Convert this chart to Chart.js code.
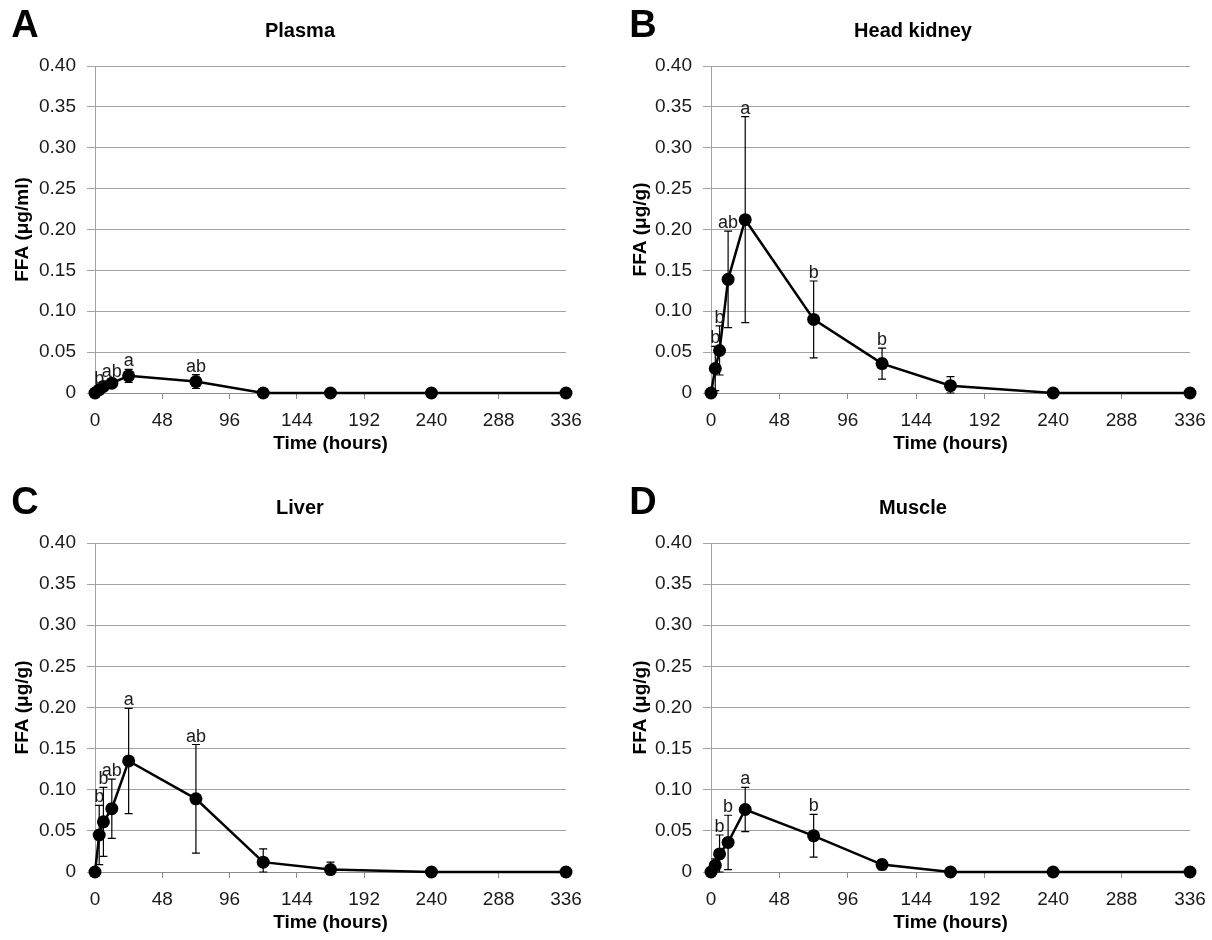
<!DOCTYPE html>
<html><head><meta charset="utf-8">
<script src="https://cdn.jsdelivr.net/npm/chart.js@4.4.1/dist/chart.umd.min.js"></script>
<style>
html,body{margin:0;padding:0;background:#fff;width:1212px;height:940px;overflow:hidden;position:relative;}
.panel{position:absolute;}
</style></head><body>
<div class="panel" style="left:0;top:0"><canvas id="cA" width="606" height="470"></canvas></div>
<div class="panel" style="left:606px;top:0"><canvas id="cB" width="610" height="470"></canvas></div>
<div class="panel" style="left:0;top:477px"><canvas id="cC" width="606" height="463"></canvas></div>
<div class="panel" style="left:606px;top:477px"><canvas id="cD" width="610" height="463"></canvas></div>
<script>
// ---- data ----
const hours = [0, 3, 6, 12, 24, 72, 120, 168, 240, 336];
const xTickValues = [0, 48, 96, 144, 192, 240, 288, 336];
const yTickValues = [0, 0.05, 0.10, 0.15, 0.20, 0.25, 0.30, 0.35, 0.40];

const plasmaMean = [0, 0.004, 0.008, 0.012, 0.021, 0.014, 0, 0, 0, 0];
const plasmaErr  = [0, 0.003, 0.003, 0.004, 0.008, 0.0085, 0, 0, 0, 0];
const plasmaSig  = ['', 'b', '', 'ab', 'a', 'ab', '', '', '', ''];

const kidneyMean = [0, 0.030, 0.052, 0.139, 0.212, 0.090, 0.036, 0.009, 0, 0];
const kidneyErr  = [0, 0.027, 0.030, 0.059, 0.126, 0.047, 0.019, 0.011, 0, 0];
const kidneySig  = ['', 'b', 'b', 'ab', 'a', 'b', 'b', '', '', ''];

const liverMean = [0, 0.045, 0.061, 0.077, 0.135, 0.089, 0.012, 0.003, 0, 0];
const liverErr  = [0, 0.036, 0.042, 0.036, 0.064, 0.066, 0.016, 0.009, 0, 0];
const liverSig  = ['', 'b', 'b', 'ab', 'a', 'ab', '', '', '', ''];

const muscleMean = [0, 0.008, 0.022, 0.036, 0.076, 0.044, 0.009, 0, 0, 0];
const muscleErr  = [0, 0.008, 0.023, 0.033, 0.027, 0.026, 0.006, 0, 0, 0];
const muscleSig  = ['', '', 'b', 'b', 'a', 'b', '', '', '', ''];

const panelTitles  = ['Plasma', 'Head kidney', 'Liver', 'Muscle'];
const panelLetters = ['A', 'B', 'C', 'D'];
const yAxisTitles  = ['FFA (\u03bcg/ml)', 'FFA (\u03bcg/g)', 'FFA (\u03bcg/g)', 'FFA (\u03bcg/g)'];
const xAxisTitle   = 'Time (hours)';

// ---- layout (canvas-local) ----
const FONT = "'Liberation Sans', Arial, Helvetica, sans-serif";
const layouts = [
  {id: 'cA', yW: 95,  padR: 40, xH: 77, yTitlePad: 11, xTitlePad: 15, titleX: 300, letterX: 25},
  {id: 'cB', yW: 105, padR: 26, xH: 77, yTitlePad: 23, xTitlePad: 15, titleX: 307, letterX: 37},
  {id: 'cC', yW: 95,  padR: 40, xH: 68, yTitlePad: 11, xTitlePad: 6,  titleX: 300, letterX: 25},
  {id: 'cD', yW: 105, padR: 26, xH: 68, yTitlePad: 23, xTitlePad: 6,  titleX: 307, letterX: 37}
];
const series = [
  {mean: plasmaMean, err: plasmaErr, sig: plasmaSig},
  {mean: kidneyMean, err: kidneyErr, sig: kidneySig},
  {mean: liverMean,  err: liverErr,  sig: liverSig},
  {mean: muscleMean, err: muscleErr, sig: muscleSig}
];

const decor = {
  id: 'decor',
  beforeDatasetsDraw(chart, args, opts) {
    const ctx = chart.ctx, xs = chart.scales.x, ys = chart.scales.y;
    const s = opts.series;
    ctx.save();
    ctx.strokeStyle = '#000';
    ctx.lineWidth = 1.2;
    hours.forEach((h, i) => {
      const e = s.err[i];
      if (!e) return;
      const x = xs.getPixelForValue(h);
      const yt = ys.getPixelForValue(s.mean[i] + e);
      const yb = ys.getPixelForValue(Math.max(0, s.mean[i] - e));
      ctx.beginPath();
      ctx.moveTo(x, yt); ctx.lineTo(x, yb);
      ctx.moveTo(x - 4, yt); ctx.lineTo(x + 4, yt);
      ctx.moveTo(x - 4, yb); ctx.lineTo(x + 4, yb);
      ctx.stroke();
    });
    ctx.restore();
  },
  afterDatasetsDraw(chart, args, opts) {
    const ctx = chart.ctx, xs = chart.scales.x, ys = chart.scales.y;
    const s = opts.series;
    ctx.save();
    ctx.fillStyle = '#1a1a1a';
    ctx.font = '18px ' + FONT;
    ctx.textAlign = 'center';
    ctx.textBaseline = 'alphabetic';
    hours.forEach((h, i) => {
      const t = s.sig[i];
      if (!t) return;
      const x = xs.getPixelForValue(h);
      const y = ys.getPixelForValue(s.mean[i] + s.err[i]);
      ctx.fillText(t, x, y - 3);
    });
    // panel letter and title
    ctx.fillStyle = '#000';
    ctx.textBaseline = 'middle';
    ctx.font = 'bold 38px ' + FONT;
    ctx.fillText(opts.letter, opts.letterX, 27);
    ctx.font = 'bold 20px ' + FONT;
    ctx.fillText(opts.title, opts.titleX, 31);
    ctx.restore();
  }
};

layouts.forEach((L, k) => {
  const s = series[k];
  new Chart(document.getElementById(L.id), {
    type: 'line',
    data: {
      datasets: [{
        data: hours.map((h, i) => ({x: h, y: s.mean[i]})),
        borderColor: '#000',
        borderWidth: 2.5,
        pointRadius: 6.5,
        pointBackgroundColor: '#000',
        pointBorderWidth: 0,
        tension: 0,
        clip: false
      }]
    },
    options: {
      responsive: false,
      animation: false,
      layout: {padding: {top: 66, left: 0, right: L.padR, bottom: 0}},
      plugins: {
        legend: {display: false},
        tooltip: {enabled: false},
        title: {display: false},
        decor: {series: s, letter: panelLetters[k], title: panelTitles[k], titleX: L.titleX, letterX: L.letterX}
      },
      scales: {
        x: {
          type: 'linear', min: 0, max: 336,
          afterBuildTicks: sc => { sc.ticks = xTickValues.map(v => ({value: v})); },
          afterFit: sc => { sc.height = L.xH; },
          grid: {drawOnChartArea: false, drawTicks: true, tickLength: 6, color: '#8c8c8c', lineWidth: 1},
          border: {display: true, color: '#8c8c8c', width: 1},
          ticks: {font: {family: FONT, size: 19}, color: '#1a1a1a', padding: 10, maxRotation: 0, autoSkip: false},
          title: {display: true, text: xAxisTitle, font: {family: FONT, size: 19, weight: 'bold'}, color: '#000', padding: {top: 0, bottom: L.xTitlePad}}
        },
        y: {
          type: 'linear', min: 0, max: 0.4,
          afterBuildTicks: sc => { sc.ticks = yTickValues.map(v => ({value: v})); },
          afterFit: sc => { sc.width = L.yW; },
          grid: {drawOnChartArea: true, drawTicks: true, tickLength: 8, color: '#a3a3a3', lineWidth: 1},
          border: {display: true, color: '#a3a3a3', width: 1},
          ticks: {font: {family: FONT, size: 19}, color: '#1a1a1a', padding: 11,
                  callback: v => v === 0 ? '0' : v.toFixed(2)},
          title: {display: true, text: yAxisTitles[k], font: {family: FONT, size: 19, weight: 'bold'}, color: '#000', padding: {top: L.yTitlePad, bottom: 0}}
        }
      }
    },
    plugins: [decor]
  });
});
</script>
</body></html>
